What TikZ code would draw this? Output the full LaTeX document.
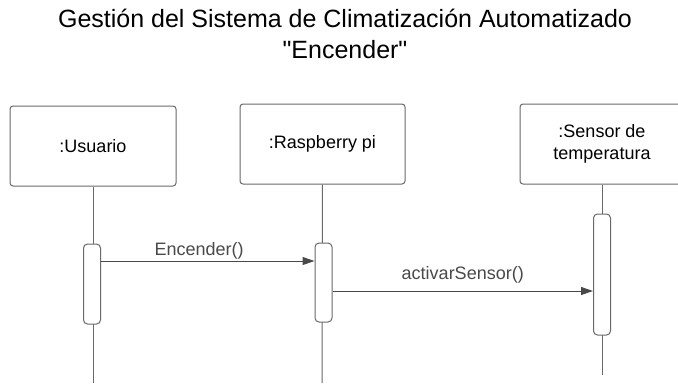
\documentclass[tikz,border=0pt]{standalone}
\usepackage{fontspec}
\setmainfont{Liberation Sans}[Ligatures=TeXOff]
\usetikzlibrary{positioning,arrows.meta}
\definecolor{linegray}{RGB}{105,105,105}
\tikzset{
  >={Triangle[length=12pt,width=8pt]},
  object/.style={draw=linegray, rounded corners=3pt, line width=1pt,
    minimum width=165pt, minimum height=80pt, align=center,
    font=\fontsize{18}{22}\selectfont},
  activation/.style={draw=linegray, fill=white, rounded corners=4pt,
    line width=1pt, minimum width=17pt, inner sep=0pt},
  lifeline/.style={linegray, line width=1pt},
  message/.style={->, linegray!70!black, line width=1pt},
  msglabel/.style={font=\fontsize{18}{20}\selectfont, inner sep=0pt}
}

\begin{document}
\begin{tikzpicture}[x=1pt,y=-1pt]
  \useasboundingbox (0,0) rectangle (678,384);

  % title
  \node[font=\fontsize{25}{31}\selectfont, align=center, anchor=base] (title) at (345,58)
    {Gestión del Sistema de Climatización Automatizado\\"Encender"};

  % objects
  \node[object, minimum width=166pt] (usr) at (93,146) {:Usuario};
  \node[object] (rpi) at (322.5,144) {:Raspberry pi};
  \node[object, minimum width=164pt] (sen) at (602,144) {:Sensor de\\temperatura};

  % lifelines
  \coordinate (usr end) at (93,383);
  \coordinate (rpi end) at (322,383);
  \coordinate (sen end) at (602,375);
  \draw[lifeline] (usr) -- (usr end);
  \draw[lifeline] (rpi) -- (rpi end);
  \draw[lifeline] (sen) -- (sen end);

  % activations
  \node[activation, minimum height=80pt] (usr act) at (92,284) {};
  \node[activation, minimum height=79pt] (rpi act) at (323.5,282.5) {};
  \node[activation, minimum height=121pt] (sen act) at (602,274.5) {};

  % messages
  \coordinate (m1) at (0,261);
  \coordinate (m2) at (0,291);
  \draw[message] (usr act.east |- m1) -- (rpi act.west |- m1)
    node[msglabel, pos=0.46, above=1pt] {Encender()};
  \draw[message] (rpi act.east |- m2) -- (sen act.west |- m2)
    node[msglabel, midway, above=7pt] {activarSensor()};
\end{tikzpicture}
\end{document}
